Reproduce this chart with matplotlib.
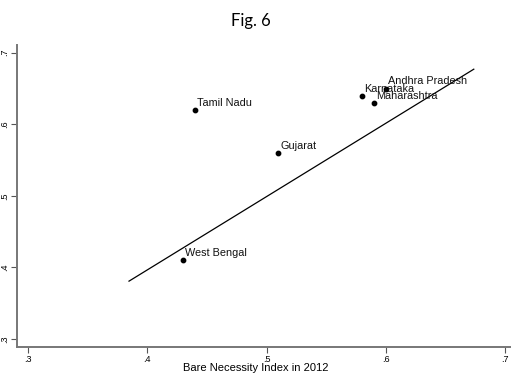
import matplotlib
matplotlib.use("Agg")
import matplotlib.pyplot as plt

# states and their values
states = ["Tamil Nadu", "Gujarat", "Karnataka", "Andhra Pradesh", "Maharashtra", "West Bengal"]
bni_2012 = [0.44, 0.51, 0.58, 0.60, 0.59, 0.43]
y_vals = [0.62, 0.56, 0.64, 0.65, 0.63, 0.41]

# fitted line endpoints
fit_x = [0.3847, 0.6738]
fit_y = [0.3808, 0.677]

xticks = [0.3, 0.4, 0.5, 0.6, 0.7]
yticks = [0.3, 0.4, 0.5, 0.6, 0.7]
ticklabels = [".3", ".4", ".5", ".6", ".7"]

plt.rcParams['font.family'] = ['Liberation Sans', 'DejaVu Sans']

fig = plt.figure(figsize=(5.11, 3.75), dpi=100)
ax = fig.add_axes([0.0333, 0.0747, 0.9667, 0.8053])

ax.plot(fit_x, fit_y, color="black", lw=0.9)
ax.scatter(bni_2012, y_vals, s=10, color="black", zorder=3)
for name, x, y in zip(states, bni_2012, y_vals):
    ax.annotate(name, (x, y), xytext=(1.5, 1.5), textcoords="offset points",
                fontsize=7.8, color="#111111", ha="left", va="bottom")

ax.set_xlim(0.2908, 0.705)
ax.set_ylim(0.2888, 0.7108)
ax.set_xticks(xticks)
ax.set_xticklabels(ticklabels)
ax.set_yticks(yticks)
ax.set_yticklabels(ticklabels, rotation=90, va="center")
ax.tick_params(labelsize=6.5, length=4.3, width=0.8, color="#555555", pad=1.5)

for s in ["top", "right"]:
    ax.spines[s].set_visible(False)
for s in ["left", "bottom"]:
    ax.spines[s].set_color("#777777")
    ax.spines[s].set_linewidth(1.4)

# x label sits tight under the tick labels
fig.text(0.501, 0.019, "Bare Necessity Index in 2012", fontsize=8,
         ha="center", va="center")
fig.text(0.49, 0.945, "Fig. 6", fontsize=12, family=["Lato", "DejaVu Sans"],
         ha="center", va="center")

fig.savefig("out.png", dpi=100)
